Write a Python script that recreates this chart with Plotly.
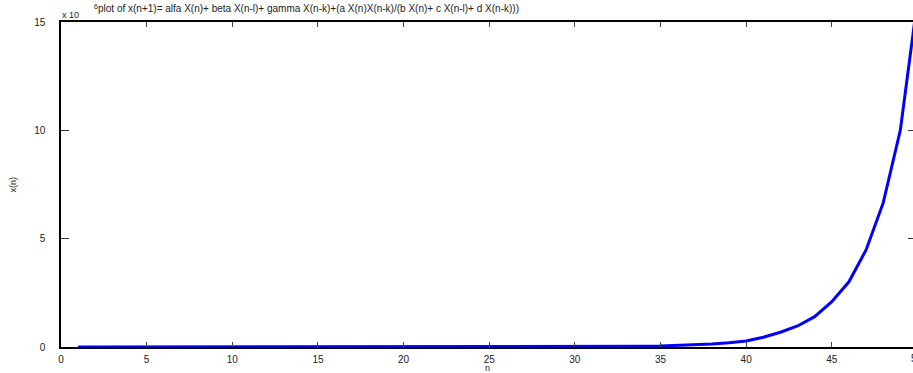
import plotly.graph_objects as go

# Iteration index n and the sequence x(n), in units of 10^6
n_values = list(range(1, 51))
x_values = [
    0.0001, 0.0001, 0.0001, 0.0001, 0.0001, 0.0001, 0.0001, 0.0001, 0.0001, 0.0001,
    0.0001, 0.0001, 0.0001, 0.0001, 0.0001, 0.0001, 0.0001, 0.0001, 0.0001, 0.00013,
    0.0002, 0.0003, 0.0004, 0.0006, 0.0009, 0.0013, 0.002, 0.003, 0.0044, 0.0066,
    0.010, 0.015, 0.022, 0.033, 0.045, 0.068, 0.10, 0.14, 0.20, 0.28,
    0.45, 0.68, 0.97, 1.40, 2.09, 3.01, 4.48, 6.65, 10.0, 16.0,
]

x_ticks = [0, 5, 10, 15, 20, 25, 30, 35, 40, 45, 50]
y_ticks = [0, 5, 10, 15]

X_MAX = 49.74
Y_MAX = 15

title_text = ("plot of x(n+1)= alfa X(n)+ beta X(n-l)+ gamma X(n-k)+"
              "(a X(n)X(n-k)/(b X(n)+ c X(n-l)+ d X(n-k)))")

FONT = "Liberation Sans, Arial, sans-serif"
TICK_FONT = dict(family=FONT, size=10, color="#222")
LABEL_FONT = dict(family=FONT, size=9, color="#222")

fig = go.Figure()
fig.add_trace(go.Scatter(
    x=n_values, y=x_values, mode="lines",
    line=dict(color="#0000ff", width=3),
    showlegend=False, hoverinfo="skip",
))
# empty trace to carry the right-hand tick axis
fig.add_trace(go.Scatter(x=[], y=[], yaxis="y2", showlegend=False))

fig.update_layout(
    width=913, height=373,
    margin=dict(l=61, r=0, t=22, b=26),
    paper_bgcolor="white", plot_bgcolor="white",
    xaxis=dict(
        range=[0, X_MAX], tickvals=x_ticks, ticks="inside", ticklen=5,
        tickcolor="#444", tickwidth=1, showline=True, linecolor="black",
        linewidth=1.5, mirror="ticks", showgrid=False, zeroline=False,
        tickfont=TICK_FONT, ticklabelstandoff=2,
    ),
    yaxis=dict(
        range=[0, Y_MAX], tickvals=y_ticks, ticks="inside", ticklen=8,
        tickcolor="#333", tickwidth=1, showline=True, linecolor="black",
        linewidth=1.5, mirror=False, showgrid=False, zeroline=False,
        tickfont=TICK_FONT, ticklabelstandoff=12,
    ),
    yaxis2=dict(
        range=[0, Y_MAX], tickvals=y_ticks, ticks="inside", ticklen=5,
        tickcolor="#333", overlaying="y", side="right", showline=False,
        showgrid=False, zeroline=False, showticklabels=False,
    ),
    font=dict(family=FONT, size=10, color="#222"),
)

plot_w = 913 - 61
plot_h = 373 - 22 - 26

annotations = [
    # tick label for n = 50, which sits just past the drawn range
    dict(text="50", xref="paper", yref="paper", x=50 / X_MAX, y=-4 / plot_h,
         xanchor="center", yanchor="top", showarrow=False, font=TICK_FONT),
    # axis titles
    dict(text="n", xref="paper", yref="paper", x=0.5, y=-14 / plot_h,
         xanchor="center", yanchor="top", showarrow=False, font=LABEL_FONT),
    dict(text="x(n)", xref="paper", yref="paper", x=-49 / plot_w, y=0.5,
         xanchor="center", yanchor="middle", textangle=-90, showarrow=False,
         font=LABEL_FONT),
    # exponent marker for the y axis
    dict(text="x 10", xref="paper", yref="paper", x=-1 / plot_w, y=1 + 0.5 / plot_h,
         xanchor="left", yanchor="bottom", showarrow=False, font=LABEL_FONT),
    dict(text="6", xref="paper", yref="paper", x=31 / plot_w, y=1 + 10 / plot_h,
         xanchor="left", yanchor="bottom", showarrow=False,
         font=dict(family=FONT, size=7, color="#222")),
    # title
    dict(text=title_text, xref="paper", yref="paper", x=35 / plot_w,
         y=1 + 6 / plot_h, xanchor="left", yanchor="bottom", showarrow=False,
         font=dict(family=FONT, size=10, color="#222")),
]
fig.update_layout(annotations=annotations)

fig.write_html("out.html")
